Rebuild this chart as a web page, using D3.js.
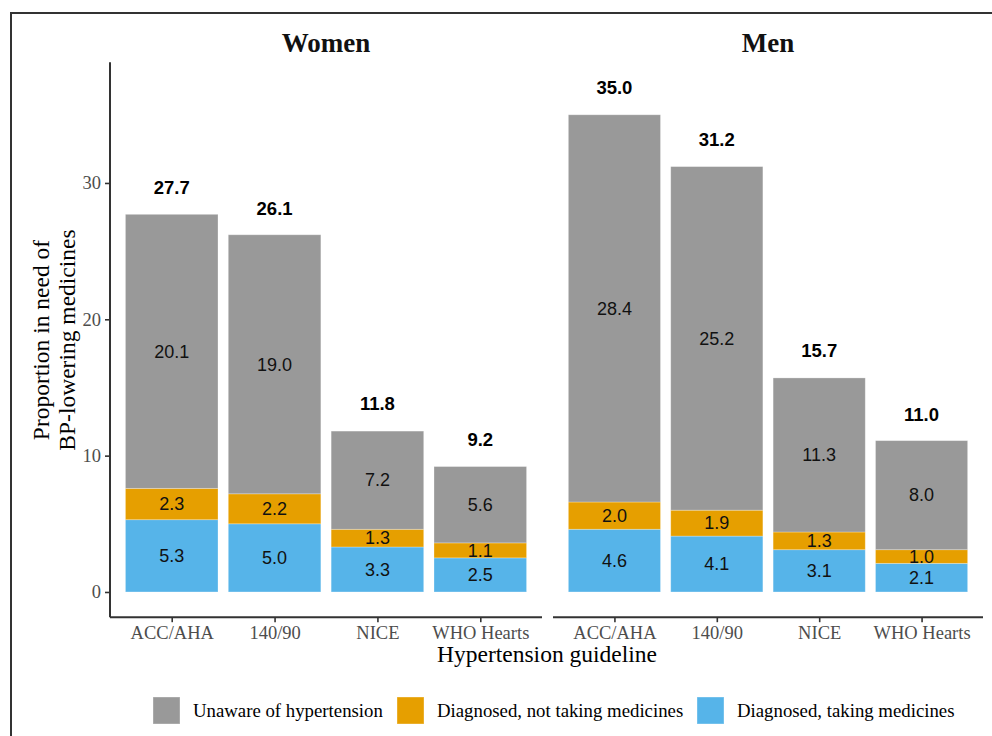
<!DOCTYPE html>
<html>
<head>
<meta charset="utf-8">
<script src="https://cdn.jsdelivr.net/npm/d3@7"></script>
<style>
  html, body { margin: 0; padding: 0; background: #fff; }
  svg { display: block; }
</style>
</head>
<body>
<svg id="chart" width="992" height="736"></svg>
<script>
// ---- data ----
const panels = ["Women", "Men"];
const guidelines = ["ACC/AHA", "140/90", "NICE", "WHO Hearts"];
const seriesNames = ["Diagnosed, taking medicines", "Diagnosed, not taking medicines", "Unaware of hypertension"];
const womenTaking = [5.3, 5.0, 3.3, 2.5];
const womenNotTaking = [2.3, 2.2, 1.3, 1.1];
const womenUnaware = [20.1, 19.0, 7.2, 5.6];
const womenTotal = [27.7, 26.1, 11.8, 9.2];
const menTaking = [4.6, 4.1, 3.1, 2.1];
const menNotTaking = [2.0, 1.9, 1.3, 1.0];
const menUnaware = [28.4, 25.2, 11.3, 8.0];
const menTotal = [35.0, 31.2, 15.7, 11.0];
const yTicks = [0, 10, 20, 30];
const legendOrder = ["Unaware of hypertension", "Diagnosed, not taking medicines", "Diagnosed, taking medicines"];

const colors = {
  "Unaware of hypertension": "#999999",
  "Diagnosed, not taking medicines": "#E69F00",
  "Diagnosed, taking medicines": "#56B4E9"
};

const panelData = {
  Women: { taking: womenTaking, notTaking: womenNotTaking, unaware: womenUnaware, total: womenTotal },
  Men: { taking: menTaking, notTaking: menNotTaking, unaware: menUnaware, total: menTotal }
};

const svg = d3.select("#chart");
const serif = "'Liberation Serif', 'Times New Roman', serif";
const sans = "'Liberation Sans', Arial, sans-serif";

// outer frame
svg.append("rect").attr("x", 11).attr("y", 13).attr("width", 1100).attr("height", 900)
  .attr("fill", "none").attr("stroke", "#333").attr("stroke-width", 2);

// y scale
const y = d3.scale ? null : null;
const yScale = d3.scaleLinear().domain([-1.85, 38.85]).range([617.2, 62.3]);

const panelRanges = { Women: [110, 542], Men: [553, 983] };

panels.forEach(p => {
  const [x0, x1] = panelRanges[p];
  const xBand = d3.scaleBand().domain(guidelines).range([x0, x1]).paddingInner(0.1 / 1).paddingOuter(0.15);
  // custom: ggplot discrete expand 0.6 -> centers at x0 + (0.6 + i) * step
  const step = (x1 - x0) / 4.2;
  const xC = d3.scalePoint().domain(guidelines).range([x0 + 0.6 * step, x0 + 3.6 * step]);
  const bw = 0.9 * step;
  const d = panelData[p];

  const g = svg.append("g");
  guidelines.forEach((gl, i) => {
    const segs = [
      { name: "Diagnosed, taking medicines", v: d.taking[i] },
      { name: "Diagnosed, not taking medicines", v: d.notTaking[i] },
      { name: "Unaware of hypertension", v: d.unaware[i] }
    ];
    let cum = 0;
    segs.forEach(s => {
      const lo = cum, hi = cum + s.v;
      cum = hi;
      g.append("rect")
        .attr("x", xC(gl) - bw / 2)
        .attr("y", yScale(hi))
        .attr("width", bw)
        .attr("height", yScale(lo) - yScale(hi))
        .attr("fill", colors[s.name])
        .attr("stroke", "#ffffff").attr("stroke-opacity", 0.35).attr("stroke-width", 0.8);
      g.append("text")
        .attr("x", xC(gl))
        .attr("y", yScale((lo + hi) / 2))
        .attr("dy", "0.35em")
        .attr("text-anchor", "middle")
        .attr("font-family", sans).attr("font-size", 18).attr("fill", "#111")
        .text(s.v.toFixed(1));
    });
    g.append("text")
      .attr("x", xC(gl))
      .attr("y", yScale(d.total[i] + 2))
      .attr("dy", "0.35em")
      .attr("text-anchor", "middle")
      .attr("font-family", sans).attr("font-weight", "bold").attr("font-size", 18.5).attr("fill", "#000")
      .text(d.total[i].toFixed(1));
  });

  // x axis
  const xAxis = d3.axisBottom(xC).tickSize(5).tickPadding(4);
  const ax = svg.append("g").attr("transform", `translate(0,${yScale.range()[0]})`).call(xAxis);
  ax.select(".domain").attr("d", `M${x0},0H${x1}`).attr("stroke", "#333").attr("stroke-width", 2);
  ax.selectAll(".tick line").attr("stroke", "#333").attr("stroke-width", 1.6);
  ax.selectAll(".tick text").attr("font-family", serif).attr("font-size", 18.5).attr("fill", "#4d4d4d");

  // facet title
  svg.append("text").attr("x", (x0 + x1) / 2).attr("y", 52)
    .attr("text-anchor", "middle").attr("font-family", serif).attr("font-weight", "bold")
    .attr("font-size", 27).attr("fill", "#111").text(p);
});

// y axis (left panel only)
const yAxis = d3.axisLeft(yScale).tickValues(yTicks).tickSize(5).tickPadding(4);
const ay = svg.append("g").attr("transform", "translate(110,0)").call(yAxis);
ay.select(".domain").attr("d", `M0,${yScale.range()[1]}V${yScale.range()[0]}`).attr("stroke", "#333").attr("stroke-width", 2);
ay.selectAll(".tick line").attr("stroke", "#333").attr("stroke-width", 1.6);
ay.selectAll(".tick text").attr("font-family", serif).attr("font-size", 18.5).attr("fill", "#4d4d4d");

// y title
const yt = svg.append("text").attr("transform", "translate(49,340) rotate(-90)")
  .attr("text-anchor", "middle").attr("font-family", serif).attr("font-size", 23.5).attr("fill", "#000");
yt.append("tspan").attr("x", 0).attr("dy", 0).text("Proportion in need of");
yt.append("tspan").attr("x", 0).attr("dy", 26).text("BP-lowering medicines");

// x title
svg.append("text").attr("x", 547).attr("y", 662).attr("text-anchor", "middle")
  .attr("font-family", serif).attr("font-size", 23.5).attr("fill", "#000").text("Hypertension guideline");

// legend
const legendX = [153, 397, 697];
legendOrder.forEach((name, i) => {
  svg.append("rect").attr("x", legendX[i]).attr("y", 697).attr("width", 27).attr("height", 27)
    .attr("fill", colors[name]).attr("stroke", "#fff").attr("stroke-opacity", 0.35);
  svg.append("text").attr("x", legendX[i] + 40).attr("y", 717)
    .attr("font-family", serif).attr("font-size", 18.8).attr("fill", "#000").text(name);
});
</script>
</body>
</html>
